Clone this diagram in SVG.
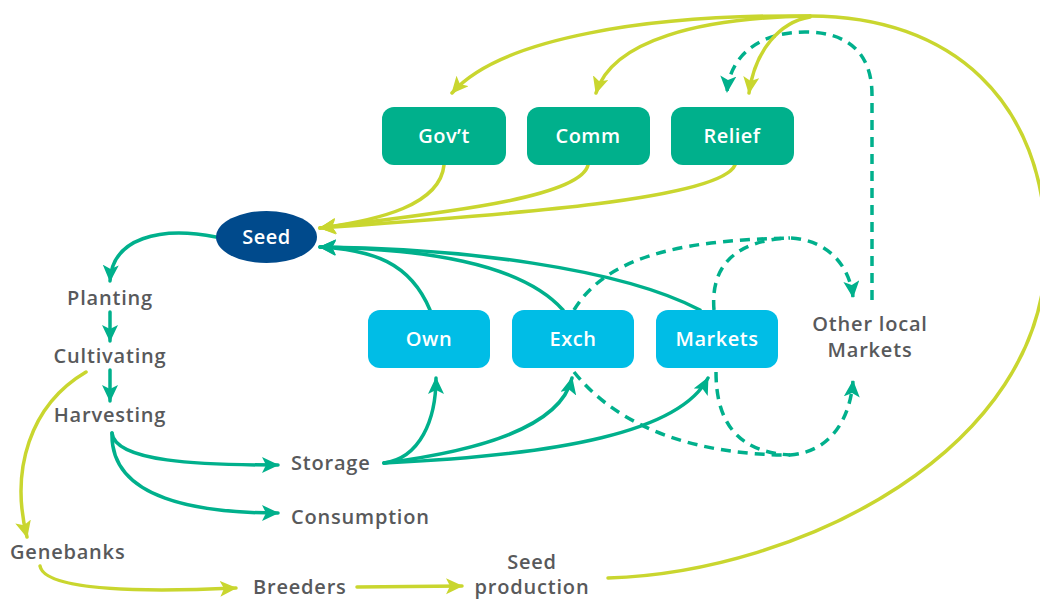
<svg xmlns="http://www.w3.org/2000/svg" width="1040" height="599" viewBox="0 0 1040 599">
<style>
.lbl{font-family:"Open Sans","Liberation Sans",sans-serif;font-weight:600;font-size:20px;letter-spacing:0.8px;fill:#58595B}
.btxt{font-family:"Open Sans","Liberation Sans",sans-serif;font-weight:600;font-size:20px;letter-spacing:0.5px;fill:#FFFFFF;text-anchor:middle}
.gbox{fill:#00B08C}
.cbox{fill:#00BDE6}
.t{fill:none;stroke:#00B08C;stroke-width:3.5;stroke-linecap:round}
.td{fill:none;stroke:#00B08C;stroke-width:3.5;stroke-dasharray:10 7}
.l{fill:none;stroke:#C9D62F;stroke-width:3.5;stroke-linecap:round}
</style>
<defs>
<marker id="mt" markerUnits="userSpaceOnUse" markerWidth="20" markerHeight="18" refX="16" refY="8" orient="auto" viewBox="0 0 20 18">
<path d="M0,0 L17,8 L0,16 L4,8 Z" fill="#00B08C"/>
</marker>
<marker id="ml" markerUnits="userSpaceOnUse" markerWidth="20" markerHeight="18" refX="16" refY="8" orient="auto" viewBox="0 0 20 18">
<path d="M0,0 L17,8 L0,16 L4,8 Z" fill="#C9D62F"/>
</marker>
</defs>
<g id="connectors">
<path class="t" d="M216,237 C160,226 112,238 110,281" marker-end="url(#mt)"/>
<path class="t" d="M110,312 L110,341" marker-end="url(#mt)"/>
<path class="t" d="M110,370 L110,401" marker-end="url(#mt)"/>
<path class="t" d="M112,433 C115,462 200,465 278,465" marker-end="url(#mt)"/>
<path class="t" d="M112,433 C110,500 200,513 278,513" marker-end="url(#mt)"/>
<path class="t" d="M384,463 C420,458 436,420 436,378" marker-end="url(#mt)"/>
<path class="t" d="M384,463 C470,452 560,430 572,378" marker-end="url(#mt)"/>
<path class="t" d="M384,463 C560,455 680,432 708,378" marker-end="url(#mt)"/>
<path class="t" d="M430,310 C410,262 372,250 320,247" marker-end="url(#mt)"/>
<path class="t" d="M563,310 C520,262 420,249 320,247" marker-end="url(#mt)"/>
<path class="t" d="M700,310 C620,268 460,248 320,247" marker-end="url(#mt)"/>
<path class="td" d="M574,310 C610,250 700,240 790,238 C830,240 850,268 853,297" marker-end="url(#mt)"/>
<path class="td" d="M714,310 C710,262 740,240 790,238"/>
<path class="td" d="M574,372 C620,430 700,455 790,455 C830,452 850,420 853,381" marker-end="url(#mt)"/>
<path class="td" d="M716,372 C716,425 740,452 790,455"/>
<path class="td" d="M872,300 L872,95 C872,55 850,32 805,32 C760,32 730,55 727,92" marker-end="url(#mt)"/>
<path class="l" d="M444,165 C440,205 380,220 320,228" marker-end="url(#ml)"/>
<path class="l" d="M588,165 C580,200 420,215 320,228" marker-end="url(#ml)"/>
<path class="l" d="M735,165 C720,200 500,215 320,228" marker-end="url(#ml)"/>
<path class="l" d="M608,578 C800,572 1046,450 1046,250 C1046,100 950,16 810,16"/>
<path class="l" d="M810,16 C650,14 500,38 452,93" marker-end="url(#ml)"/>
<path class="l" d="M810,16 C700,18 612,40 596,93" marker-end="url(#ml)"/>
<path class="l" d="M810,17 C780,22 755,50 749,93" marker-end="url(#ml)"/>
<path class="l" d="M86,372 C30,405 10,470 27,537" marker-end="url(#ml)"/>
<path class="l" d="M40,566 C45,592 150,592 236,588" marker-end="url(#ml)"/>
<path class="l" d="M357,587 L462,586" marker-end="url(#ml)"/>
</g>
<g id="node-govt"><rect class="gbox" x="382" y="107" width="124" height="58" rx="12"/><text class="btxt" x="444" y="143">Gov’t</text></g>
<g id="node-comm"><rect class="gbox" x="527" y="107" width="123" height="58" rx="12"/><text class="btxt" x="588" y="143">Comm</text></g>
<g id="node-relief"><rect class="gbox" x="671" y="107" width="123" height="58" rx="12"/><text class="btxt" x="732" y="143">Relief</text></g>
<g id="node-seed"><ellipse cx="266.5" cy="237" rx="50.5" ry="26" fill="#004A8C"/><text class="btxt" x="266.5" y="244">Seed</text></g>
<g id="node-own"><rect class="cbox" x="368" y="310" width="122" height="58" rx="12"/><text class="btxt" x="429" y="346">Own</text></g>
<g id="node-exch"><rect class="cbox" x="512" y="310" width="122" height="58" rx="12"/><text class="btxt" x="573" y="346">Exch</text></g>
<g id="node-markets"><rect class="cbox" x="656" y="310" width="122" height="58" rx="12"/><text class="btxt" x="717" y="346">Markets</text></g>
<g id="node-planting"><text class="lbl" x="110" y="305" text-anchor="middle">Planting</text></g>
<g id="node-cultivating"><text class="lbl" x="110" y="363" text-anchor="middle">Cultivating</text></g>
<g id="node-harvesting"><text class="lbl" x="110" y="422" text-anchor="middle">Harvesting</text></g>
<g id="node-storage"><text class="lbl" x="291" y="470">Storage</text></g>
<g id="node-consumption"><text class="lbl" x="291" y="524">Consumption</text></g>
<g id="node-genebanks"><text class="lbl" x="10" y="559">Genebanks</text></g>
<g id="node-breeders"><text class="lbl" x="253" y="594">Breeders</text></g>
<g id="node-seedprod"><text class="lbl" x="532" y="569" text-anchor="middle">Seed</text><text class="lbl" x="532" y="594" text-anchor="middle">production</text></g>
<g id="node-other"><text class="lbl" x="870" y="331" text-anchor="middle">Other local</text><text class="lbl" x="870" y="357" text-anchor="middle">Markets</text></g>
</svg>
